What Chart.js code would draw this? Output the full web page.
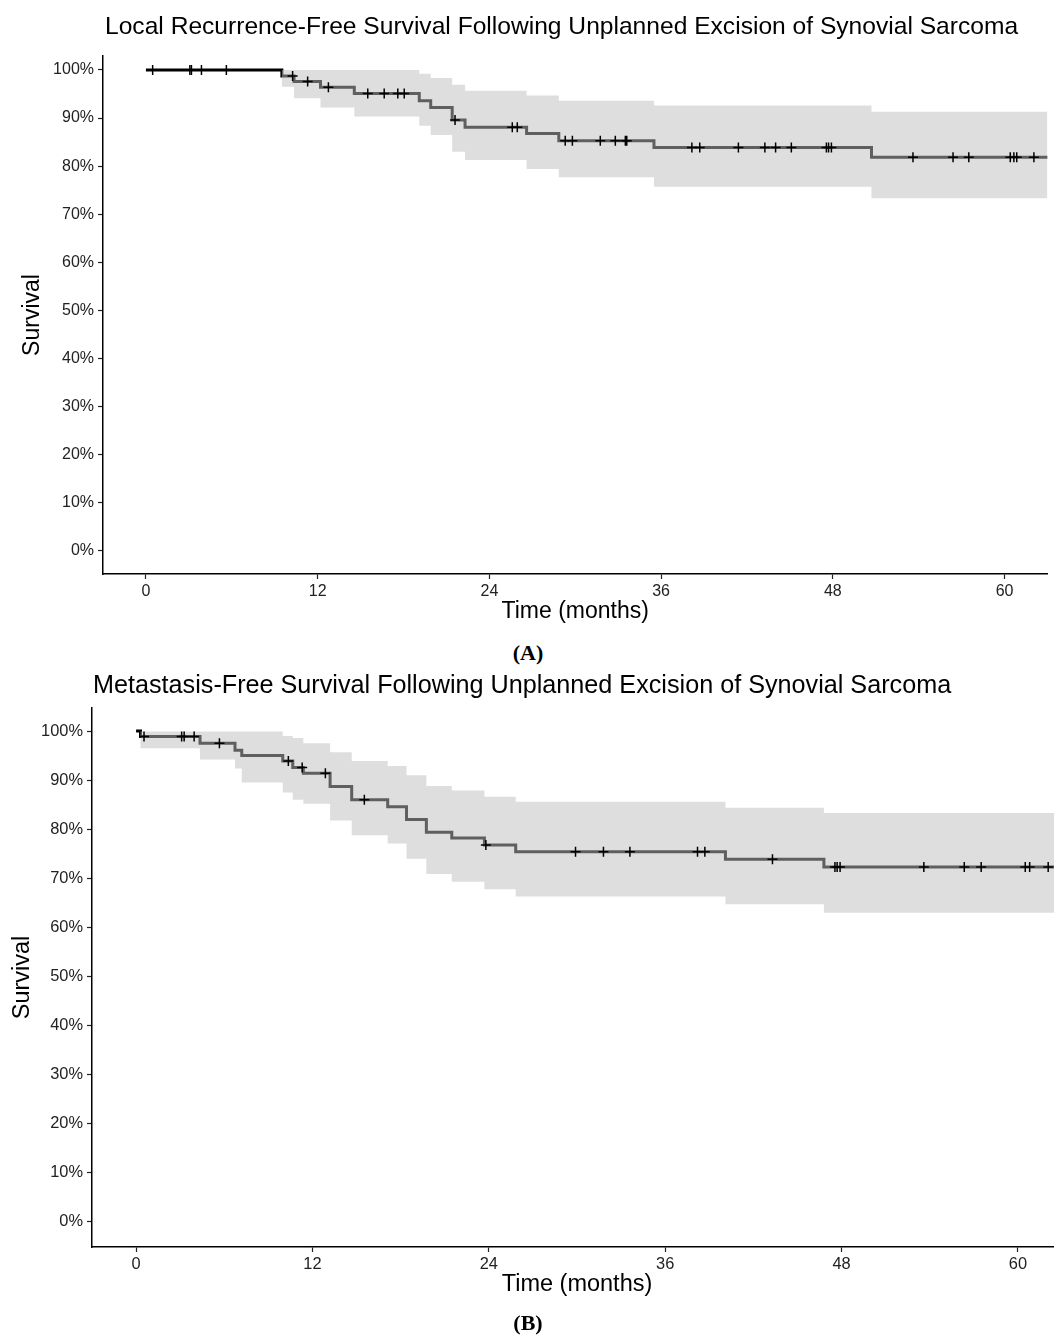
<!DOCTYPE html>
<html>
<head>
<meta charset="utf-8">
<script src="https://cdn.jsdelivr.net/npm/chart.js@4.4.1/dist/chart.umd.min.js"></script>
<style>
  html, body { margin: 0; padding: 0; background: #fff; overflow: hidden; }
  body { width: 1054px; height: 1337px; position: relative; }
  canvas { position: absolute; left: 0; }
  #chartA { top: 0; }
  #chartB { top: 662px; }
  .panel-label {
    position: absolute; left: 1px; width: 1054px; text-align: center;
    font: bold 22px 'Liberation Serif', 'Times New Roman', serif; color: #000;
  }
</style>
</head>
<body>
<canvas id="chartA" width="1054" height="640"></canvas>
<div class="panel-label" style="top:640px">(A)</div>
<canvas id="chartB" width="1070" height="663"></canvas>
<div class="panel-label" style="top:1310px">(B)</div>

<script>
// tick labels
const xTicks = [0, 12, 24, 36, 48, 60];
const yTicks = [0, 10, 20, 30, 40, 50, 60, 70, 80, 90, 100];

// (A) local recurrence-free survival: step times (months) and values (%)
const lrfsTime  = [0, 9.5, 10.35, 12.2, 14.56, 19.1, 19.9, 21.4, 22.3, 26.6, 28.85, 35.5, 50.7, 63];
const lrfsSurv  = [100, 98.75, 97.6, 96.4, 95.1, 93.6, 92.2, 89.6, 88.1, 86.8, 85.3, 83.9, 81.85, 81.85];
const lrfsUpper = [100, 100, 100, 100, 100, 99.2, 98.3, 96.9, 95.7, 94.7, 93.6, 92.6, 91.3, 91.3];
const lrfsLower = [100, 96.5, 94.1, 92.2, 90.3, 88.4, 86.5, 83.0, 81.3, 79.4, 77.7, 75.7, 73.3, 73.3];
// censored cases
const lrfsCensorTime = [0.47, 3.07, 3.18, 3.88, 5.62, 10.25, 11.3, 12.75, 15.5, 16.65, 17.6, 18.05, 21.6,
  25.6, 25.95, 29.3, 29.8, 31.75, 32.8, 33.5, 33.6, 38.15, 38.7, 41.4, 43.25, 44.0, 45.1, 47.55, 47.7, 47.9,
  53.6, 56.4, 57.5, 60.4, 60.65, 60.85, 62.05];
const lrfsCensorSurv = [100, 100, 100, 100, 100, 98.75, 97.6, 96.4, 95.1, 95.1, 95.1, 95.1, 89.6,
  88.1, 88.1, 85.3, 85.3, 85.3, 85.3, 85.3, 85.3, 83.9, 83.9, 83.9, 83.9, 83.9, 83.9, 83.9, 83.9, 83.9,
  81.85, 81.85, 81.85, 81.85, 81.85, 81.85, 81.85];

// (B) metastasis-free survival
const mfsTime  = [0, 0.3, 4.35, 6.73, 7.19, 9.98, 10.66, 11.38, 13.2, 14.67, 17.12, 18.4, 19.75, 21.48, 23.7, 25.83, 40.1, 46.8, 63];
const mfsSurv  = [100, 98.9, 97.5, 96.1, 95.0, 93.9, 92.6, 91.4, 88.7, 86.0, 84.6, 82.0, 79.4, 78.2, 76.8, 75.4, 73.9, 72.3, 72.3];
const mfsUpper = [100, 99.9, 99.9, 99.9, 99.9, 99.0, 98.6, 97.5, 95.7, 93.9, 92.9, 91.0, 88.8, 87.9, 86.6, 85.6, 84.4, 83.3, 83.3];
const mfsLower = [100, 96.5, 94.2, 92.4, 89.5, 87.5, 86.0, 85.2, 81.8, 78.8, 77.1, 74.0, 70.9, 69.3, 67.8, 66.3, 64.7, 63.0, 63.0];
const mfsCensorTime = [0.54, 3.1, 3.27, 3.95, 5.67, 10.36, 11.3, 12.88, 15.53, 23.8, 29.9, 31.8, 33.6, 38.2, 38.7,
  43.3, 47.55, 47.7, 47.9, 53.6, 56.35, 57.5, 60.5, 60.8, 62.06];
const mfsCensorSurv = [98.9, 98.9, 98.9, 98.9, 97.5, 93.9, 92.6, 91.4, 86.0, 76.8, 75.4, 75.4, 75.4, 75.4, 75.4,
  73.9, 72.3, 72.3, 72.3, 72.3, 72.3, 72.3, 72.3, 72.3, 72.3];

const family = "'Liberation Sans', Arial, sans-serif";

function toPoints(xs, ys) {
  return xs.map((x, i) => ({ x: x, y: ys[i] }));
}

// ggplot style title, left aligned with the panel
const panelTitle = {
  id: 'panelTitle',
  afterDraw(chart, args, opts) {
    const ctx = chart.ctx;
    ctx.save();
    ctx.font = opts.size + 'px ' + family;
    ctx.fillStyle = '#000';
    ctx.textBaseline = 'alphabetic';
    ctx.textAlign = 'left';
    ctx.fillText(opts.text, chart.chartArea.left + opts.dx, opts.y);
    ctx.restore();
  }
};

function makeChart(id, cfg) {
  return new Chart(document.getElementById(id), {
    type: 'line',
    data: {
      datasets: [
        { label: 'Survival', data: toPoints(cfg.time, cfg.surv), stepped: 'before',
          borderColor: '#000', borderWidth: 3, pointRadius: 0, fill: false, order: 3 },
        { label: 'Upper', data: toPoints(cfg.time, cfg.upper), stepped: 'before',
          borderColor: 'rgba(0,0,0,0)', borderWidth: 0, pointRadius: 0,
          backgroundColor: 'rgba(190,190,190,0.5)', fill: '+1', order: 2 },
        { label: 'Lower', data: toPoints(cfg.time, cfg.lower), stepped: 'before',
          borderColor: 'rgba(0,0,0,0)', borderWidth: 0, pointRadius: 0, fill: false, order: 2 },
        { label: 'Censored', data: toPoints(cfg.censorTime, cfg.censorSurv), showLine: false,
          pointStyle: 'cross', pointRadius: 5, pointBorderWidth: 1.5, borderColor: '#000', order: 1 }
      ]
    },
    options: {
      responsive: false,
      animation: false,
      events: [],
      layout: { padding: cfg.padding },
      plugins: {
        legend: { display: false },
        tooltip: { enabled: false },
        panelTitle: { text: cfg.title, size: cfg.titleSize, y: cfg.titleY, dx: cfg.titleDx }
      },
      scales: {
        x: {
          type: 'linear', min: -3, max: cfg.xMax,
          afterBuildTicks: s => { s.ticks = xTicks.map(v => ({ value: v })); },
          afterFit: s => { s.height = 55; },
          ticks: { font: { size: cfg.tickSize, family: family }, color: '#222', padding: 3, maxRotation: 0 },
          grid: { drawOnChartArea: false, drawTicks: true, tickLength: 5, tickColor: '#222', tickWidth: 1.2 },
          border: { display: true, color: '#000', width: 1.5 },
          title: { display: true, text: 'Time (months)', color: '#000',
                   font: { size: cfg.axisTitleSize, family: family }, padding: { top: 0, bottom: cfg.xTitlePad } }
        },
        y: {
          type: 'linear', min: cfg.yMin, max: cfg.yMax,
          afterBuildTicks: s => { s.ticks = yTicks.map(v => ({ value: v })); },
          afterFit: s => { s.width = cfg.yAxisWidth; },
          ticks: { font: { size: cfg.tickSize, family: family }, color: '#222', padding: 4,
                   callback: v => v + '%' },
          grid: { drawOnChartArea: false, drawTicks: true, tickLength: 5, tickColor: '#222', tickWidth: 1.2 },
          border: { display: true, color: '#000', width: 1.5 },
          title: { display: true, text: 'Survival', color: '#000',
                   font: { size: cfg.axisTitleSize, family: family }, padding: { top: cfg.yTitlePad, bottom: 0 } }
        }
      }
    },
    plugins: [panelTitle]
  });
}

makeChart('chartA', {
  time: lrfsTime, surv: lrfsSurv, upper: lrfsUpper, lower: lrfsLower,
  censorTime: lrfsCensorTime, censorSurv: lrfsCensorSurv,
  title: 'Local Recurrence-Free Survival Following Unplanned Excision of Synovial Sarcoma',
  titleSize: 24.6, titleY: 34, titleDx: 2,
  xMax: 63, yMin: -4.8, yMax: 102.9,
  tickSize: 16, axisTitleSize: 23, xTitlePad: 4, yTitlePad: 19,
  yAxisWidth: 103,
  padding: { left: 0, right: 4, top: 56, bottom: 11 }
});

makeChart('chartB', {
  time: mfsTime, surv: mfsSurv, upper: mfsUpper, lower: mfsLower,
  censorTime: mfsCensorTime, censorSurv: mfsCensorSurv,
  title: 'Metastasis-Free Survival Following Unplanned Excision of Synovial Sarcoma',
  titleSize: 25.2, titleY: 31, titleDx: 1,
  xMax: 63, yMin: -5.1, yMax: 104.7,
  tickSize: 16.4, axisTitleSize: 23.5, xTitlePad: 3, yTitlePad: 8,
  yAxisWidth: 92,
  padding: { left: 0, right: 8, top: 46, bottom: 23 }
});
</script>
</body>
</html>
